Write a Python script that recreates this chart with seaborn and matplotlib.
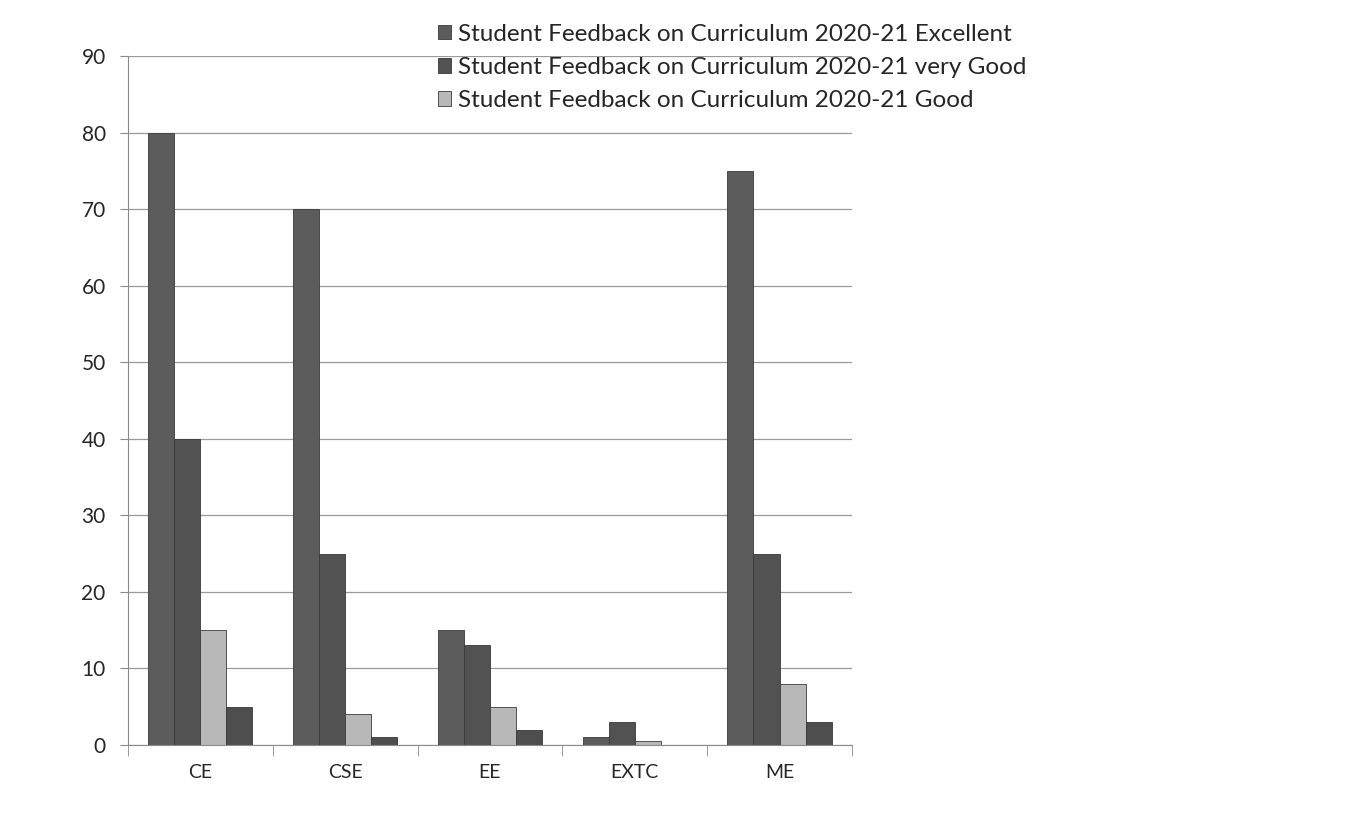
import pandas as pd
import seaborn as sns
import matplotlib.pyplot as plt
import numpy as np

departments = ['CE', 'CSE', 'EE', 'EXTC', 'ME']
excellent = [80, 70, 15, 1, 75]
very_good = [40, 25, 13, 3, 25]
good = [15, 4, 5, 0.5, 8]
average = [5, 1, 2, 0, 3]

series_names = ['Student Feedback on Curriculum 2020-21 Excellent',
                'Student Feedback on Curriculum 2020-21 very Good',
                'Student Feedback on Curriculum 2020-21 Good',
                'Student Feedback on Curriculum 2020-21 Average']
y_ticks = [0, 10, 20, 30, 40, 50, 60, 70, 80, 90]

rows = []
for name, vals in zip(series_names, [excellent, very_good, good, average]):
    for d, v in zip(departments, vals):
        rows.append({'dept': d, 'value': v, 'series': name})
df = pd.DataFrame(rows)

sns.set_style('white')
plt.rcParams['font.family'] = ['Lato', 'DejaVu Sans']

fig = plt.figure(figsize=(13.64, 8.36), dpi=100)
ax = fig.add_axes([0.0938, 0.1089, 0.5308, 0.8241])

palette = ['#5c5c5c', '#525252', '#b8b8b8', '#4e4e4e']
sns.barplot(data=df, x='dept', y='value', hue='series', palette=palette,
            width=0.72, edgecolor='#3a3a3a', linewidth=0.6, ax=ax, legend=True)

ax.set_ylim(0, 90)
ax.set_yticks(y_ticks)
ax.set_xlim(-0.5, 4.5)
ax.yaxis.grid(True, color='#9a9a9a', linewidth=0.9)
ax.set_axisbelow(True)
for s in ['top', 'right']:
    ax.spines[s].set_visible(False)
ax.spines['left'].set_color('#8a8a8a')
ax.spines['bottom'].set_color('#8a8a8a')
ax.set_xlabel('')
ax.set_ylabel('')
ax.tick_params(axis='y', labelsize=15, length=6, color='#8a8a8a', left=True, pad=10)
ax.tick_params(axis='x', labelsize=14, length=0, pad=14)
ax.set_xticks(np.arange(-0.5, 5, 1), minor=True)
ax.tick_params(axis='x', which='minor', length=8, color='#8a8a8a', bottom=True)

handles, labels = ax.get_legend_handles_labels()
ax.legend(handles[:3], labels[:3], loc='upper left', bbox_to_anchor=(0.428, 1.047),
          frameon=False, fontsize=17.5, handlelength=0.55, handleheight=0.55,
          handletextpad=0.3, labelspacing=0.5, borderaxespad=0, borderpad=0)

fig.savefig('out.png', dpi=100, facecolor='white')
